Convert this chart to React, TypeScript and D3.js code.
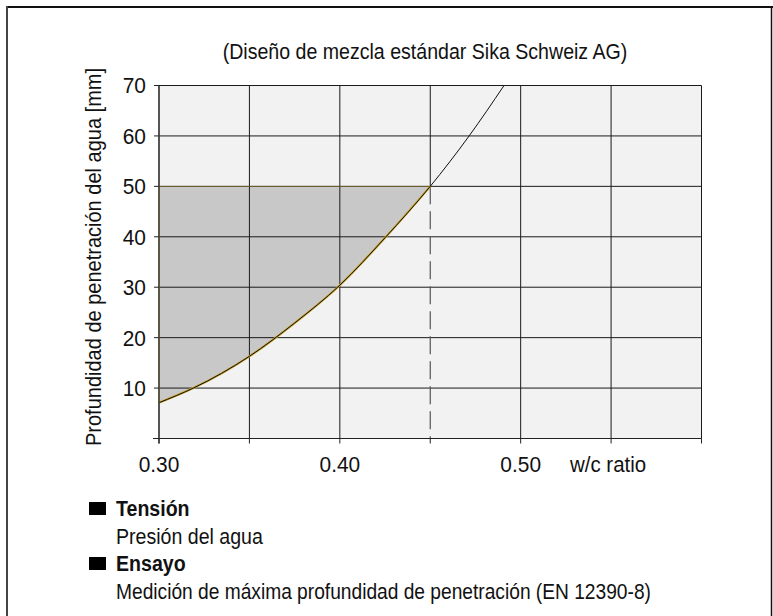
import React from "react";
import * as d3 from "d3";

const TITLE = "(Diseño de mezcla estándar Sika Schweiz AG)";
const Y_LABEL = "Profundidad de penetración del agua [mm]";
const X_UNIT = "w/c ratio";
const X_TICK_LABELS = [
  { v: 0.3, t: "0.30" },
  { v: 0.4, t: "0.40" },
  { v: 0.5, t: "0.50" },
];
const Y_TICKS = [10, 20, 30, 40, 50, 60, 70];
const X_GRID = [0.3, 0.35, 0.4, 0.45, 0.5, 0.55, 0.6];
const Y_GRID = [0, 10, 20, 30, 40, 50, 60, 70];

// water/cement ratio vs penetration depth (mm)
const wcRatio = [0.3, 0.319, 0.35, 0.375, 0.4, 0.425, 0.45, 0.4715, 0.4908];
const depth = [7.1, 10, 16.3, 22.9, 30.4, 39.8, 50, 60, 70];

const LIMIT_WC = 0.45;
const LIMIT_DEPTH = 50;

const LEGEND = [
  { head: "Tensión", text: "Presión del agua" },
  { head: "Ensayo", text: "Medición de máxima profundidad de penetración (EN 12390-8)" },
];

const FONT = "'Liberation Sans', Arial, sans-serif";
const SX = 0.89; // condensed look
const FS = 22;

function T(props: {
  x: number;
  y: number;
  children: React.ReactNode;
  anchor?: "start" | "middle" | "end";
  sx?: number;
  rotate?: number;
  bold?: boolean;
  dy?: string;
}) {
  const { x, y, anchor = "start", sx = SX, rotate = 0, bold = false, dy } = props;
  return (
    <text
      transform={`translate(${x},${y}) rotate(${rotate}) scale(${sx},1)`}
      textAnchor={anchor}
      fontSize={FS}
      fontWeight={bold ? "bold" : "normal"}
      fill="#111"
      dy={dy}
    >
      {props.children}
    </text>
  );
}

export default function App() {
  const W = 773;
  const H = 616;
  const x = d3.scaleLinear().domain([0.3, 0.6]).range([159, 701.5]);
  const y = d3.scaleLinear().domain([0, 70]).range([438.5, 85.5]);

  const pts = wcRatio.map((w, i) => ({ w, d: depth[i] }));
  const curve = d3.curveMonotoneX;
  const line = d3
    .line<{ w: number; d: number }>()
    .x((p) => x(p.w))
    .y((p) => y(p.d))
    .curve(curve);
  const shadePts = pts.filter((p) => p.w <= LIMIT_WC);
  const area = d3
    .area<{ w: number; d: number }>()
    .x((p) => x(p.w))
    .y0(y(LIMIT_DEPTH))
    .y1((p) => y(p.d))
    .curve(curve);

  const gridColor = "#1a1a1a";

  return (
    <svg
      width={W}
      height={H}
      style={{ position: "absolute", left: 0, top: 0, background: "#fff" }}
      fontFamily={FONT}
    >
      {/* outer frame */}
      <line x1={6} x2={773} y1={7} y2={7} stroke="#111" strokeWidth={2} />
      <line x1={7} x2={7} y1={6} y2={616} stroke="#444" strokeWidth={2} />
      <line x1={771.5} x2={771.5} y1={6} y2={616} stroke="#111" strokeWidth={1.5} />

      {/* title */}
      <T x={425} y={59} anchor="middle">
        {TITLE}
      </T>

      {/* plot background */}
      <rect
        x={x(0.3)}
        y={y(70)}
        width={x(0.6) - x(0.3)}
        height={y(0) - y(70)}
        fill="#f2f2f2"
      />

      {/* shaded acceptable region */}
      <path d={area(shadePts) || ""} fill="#c8c8c8" stroke="none" />

      {/* horizontal grid */}
      {Y_GRID.map((v) => (
        <line
          key={"h" + v}
          x1={x(0.3)}
          x2={x(0.6)}
          y1={y(v)}
          y2={y(v)}
          stroke={gridColor}
          strokeWidth={1}
        />
      ))}
      {/* vertical grid */}
      {X_GRID.map((v) => (
        <line
          key={"v" + v}
          x1={x(v)}
          x2={x(v)}
          y1={y(70)}
          y2={v === LIMIT_WC ? y(LIMIT_DEPTH) : y(0)}
          stroke={gridColor}
          strokeWidth={1}
        />
      ))}

      {/* dashed limit line */}
      <line
        x1={x(LIMIT_WC)}
        x2={x(LIMIT_WC)}
        y1={y(LIMIT_DEPTH)}
        y2={y(0)}
        stroke="#555"
        strokeWidth={1.2}
        strokeDasharray="18,7"
      />

      {/* gold outline of shaded area */}
      <line
        x1={x(0.3)}
        x2={x(0.3)}
        y1={y(pts[0].d)}
        y2={y(LIMIT_DEPTH)}
        stroke="#b8962e"
        strokeWidth={1.2}
      />
      <line
        x1={x(0.3)}
        x2={x(LIMIT_WC)}
        y1={y(LIMIT_DEPTH)}
        y2={y(LIMIT_DEPTH)}
        stroke="#b8962e"
        strokeWidth={0.8}
        opacity={0.6}
      />
      <path d={line(shadePts) || ""} fill="none" stroke="#c9a227" strokeWidth={2.2} />

      {/* curve */}
      <path d={line(pts) || ""} fill="none" stroke="#111" strokeWidth={1} />

      {/* axes */}
      <line x1={153} x2={x(0.6)} y1={y(0)} y2={y(0)} stroke="#222" strokeWidth={1.2} />
      <line x1={x(0.3)} x2={x(0.3)} y1={y(70)} y2={y(0) + 5} stroke="#444" strokeWidth={1.5} />
      {Y_GRID.map((v) => (
        <line
          key={"yt" + v}
          x1={x(0.3) - 5}
          x2={x(0.3)}
          y1={y(v)}
          y2={y(v)}
          stroke="#222"
          strokeWidth={1}
        />
      ))}
      {X_GRID.map((v) => (
        <line
          key={"xt" + v}
          x1={x(v)}
          x2={x(v)}
          y1={y(0)}
          y2={y(0) + 5}
          stroke="#222"
          strokeWidth={1}
        />
      ))}

      {/* y tick labels */}
      {Y_TICKS.map((v) => (
        <T key={"yl" + v} x={146} y={y(v)} dy="0.36em" anchor="end" sx={0.95}>
          {v}
        </T>
      ))}

      {/* x tick labels */}
      {X_TICK_LABELS.map((d) => (
        <T key={"xl" + d.t} x={x(d.v)} y={472} anchor="middle" sx={0.95}>
          {d.t}
        </T>
      ))}
      <T x={570} y={472} sx={0.93}>
        {X_UNIT}
      </T>

      {/* y axis label */}
      <T x={101} y={(y(0) + y(70)) / 2 - 5} anchor="middle" rotate={-90} sx={0.91}>
        {Y_LABEL}
      </T>

      {/* legend */}
      {LEGEND.map((l, i) => {
        const base = 516 + i * 55;
        return (
          <g key={l.head}>
            <rect x={89} y={base - 14} width={17} height={13} fill="#000" />
            <T x={116} y={base} bold>
              {l.head}
            </T>
            <T x={116} y={base + 28} sx={i === 1 ? 0.872 : SX}>
              {l.text}
            </T>
          </g>
        );
      })}
    </svg>
  );
}
